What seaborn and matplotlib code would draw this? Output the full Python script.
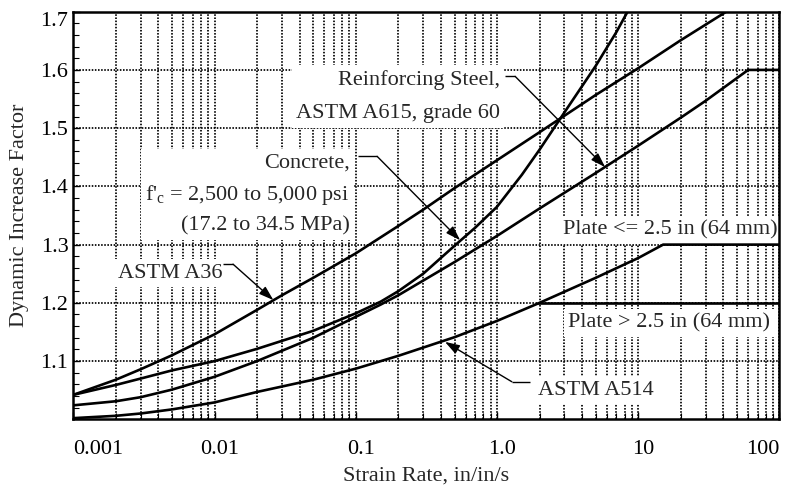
import matplotlib
matplotlib.use("Agg")
import matplotlib.pyplot as plt
import matplotlib.ticker as mticker
import matplotlib.transforms as mtransforms
import pandas as pd
import seaborn as sns

# ---------------- data ----------------
a36_rate = [0.001, 0.002, 0.003, 0.005, 0.01, 0.02, 0.03, 0.05, 0.1, 0.2, 0.3, 0.5,
            1.0, 2.0, 5.0, 10, 20, 42]
a36_dif = [1.042, 1.068, 1.086, 1.110, 1.146, 1.188, 1.213, 1.243, 1.285, 1.332, 1.360,
           1.397, 1.445, 1.493, 1.557, 1.603, 1.651, 1.700]

concrete_rate = [0.001, 0.002, 0.003, 0.005, 0.01, 0.02, 0.05, 0.1, 0.15, 0.2, 0.3, 0.5,
                 0.7, 1.0, 1.5, 2.0, 3.0, 5.0, 7.0, 8.4]
concrete_dif = [1.042, 1.059, 1.070, 1.084, 1.100, 1.121, 1.152, 1.182, 1.202, 1.220, 1.250,
                1.298, 1.329, 1.365, 1.420, 1.463, 1.527, 1.607, 1.665, 1.700]

rebar_rate = [0.001, 0.002, 0.003, 0.005, 0.01, 0.02, 0.05, 0.1, 0.15, 0.2, 0.5, 1.0, 2.0,
              5.0, 10, 20, 30, 60, 100]
rebar_dif = [1.024, 1.031, 1.038, 1.051, 1.073, 1.100, 1.140, 1.176, 1.197, 1.213, 1.270,
             1.315, 1.362, 1.423, 1.470, 1.518, 1.547, 1.600, 1.600]

a514_rate = [0.001, 0.002, 0.003, 0.005, 0.01, 0.02, 0.05, 0.1, 0.2, 0.5, 1.0, 2.0, 5.0,
             10, 15, 100]
a514_dif = [1.002, 1.006, 1.010, 1.017, 1.029, 1.047, 1.068, 1.087, 1.109, 1.141, 1.169,
            1.200, 1.243, 1.277, 1.300, 1.300]

thick_plate_rate = [1.96, 100]
thick_plate_dif = [1.2, 1.2]

x_tick_values = [0.001, 0.01, 0.1, 1.0, 10, 100]
x_tick_labels = ["0.001", "0.01", "0.1", "1.0", "10", "100"]
y_tick_values = [1.1, 1.2, 1.3, 1.4, 1.5, 1.6, 1.7]
y_tick_labels = ["1.1", "1.2", "1.3", "1.4", "1.5", "1.6", "1.7"]

# annotation anchors (data coordinates): text, leader corner, leader start, arrow tip
rebar_label = "Reinforcing Steel,\nASTM A615, grade 60"
rebar_text_xy = (1.05, 1.5545)
rebar_leader = [(1.141, 1.5889), (1.344, 1.5889)]
rebar_tip = (5.83, 1.433)

concrete_label = "Concrete,\nf'$_\\mathregular{c}$ = 2,500 to 5,000 psi\n(17.2 to 34.5 MPa)"
concrete_text_xy = (0.0905, 1.386)
concrete_leader = [(0.1038, 1.4516), (0.1416, 1.4516)]
concrete_tip = (0.548, 1.3075)

a36_label = "ASTM A36"
a36_text_xy = (0.0113, 1.251)
a36_leader = [(0.01149, 1.2664), (0.01352, 1.2664)]
a36_tip = (0.0261, 1.2047)

a514_label = "ASTM A514"
a514_text_xy = (1.955, 1.0503)
a514_leader = [(1.715, 1.0645), (1.273, 1.0645)]
a514_tip = (0.428, 1.133)

thin_label = "Plate <= 2.5 in (64 mm)"
thin_text_xy = (97.5, 1.3247)
thick_label = "Plate > 2.5 in (64 mm)"
thick_text_xy = (85.9, 1.165)

# ---------------- long table for seaborn ----------------
frames = []
for name, xs, ys in [("A36", a36_rate, a36_dif),
                     ("Concrete", concrete_rate, concrete_dif),
                     ("Rebar", rebar_rate, rebar_dif),
                     ("A514", a514_rate, a514_dif),
                     ("A514 thick", thick_plate_rate, thick_plate_dif)]:
    frames.append(pd.DataFrame({"series": name, "rate": xs, "dif": ys}))
df = pd.concat(frames, ignore_index=True)

# ---------------- style ----------------
sns.set_style("ticks")
plt.rcParams["font.family"] = ["Liberation Serif", "DejaVu Serif"]
plt.rcParams["mathtext.fontset"] = "custom"
plt.rcParams["mathtext.rm"] = "Liberation Serif"
plt.rcParams["mathtext.it"] = "Liberation Serif:italic"
plt.rcParams["mathtext.default"] = "regular"
FS = 16

fig = plt.figure(figsize=(7.9, 4.87), dpi=100)
ax = fig.add_axes([0.0928, 0.139, 0.8939, 0.837])
ax.set_xscale("log")

sns.lineplot(data=df, x="rate", y="dif", units="series", estimator=None, sort=False,
             color="black", lw=1.9, ax=ax, zorder=4, legend=False)

ax.set_xlim(0.001, 100)
ax.set_ylim(1.0, 1.7)

# grid
ax.set_axisbelow(True)
grid_kw = dict(color="black", lw=1.25, linestyle=(0, (0.9, 0.9)))
ax.grid(True, which="both", axis="x", **grid_kw)
ax.grid(True, which="major", axis="y", **grid_kw)

# ticks
ax.set_xticks(x_tick_values)
ax.set_xticklabels(x_tick_labels)
ax.xaxis.set_minor_locator(mticker.LogLocator(base=10, subs=range(2, 10), numticks=20))
ax.xaxis.set_minor_formatter(mticker.NullFormatter())
ax.set_yticks(y_tick_values)
ax.set_yticklabels(y_tick_labels)
ax.yaxis.set_minor_locator(mticker.MultipleLocator(0.02))
ax.tick_params(axis="both", which="both", direction="in", colors="black",
               labelsize=FS, top=False, right=False)
ax.tick_params(axis="x", which="major", length=5, width=1.0, pad=15)
ax.tick_params(axis="x", which="minor", length=4, width=0.8)
ax.tick_params(axis="y", which="major", length=5, width=1.0, pad=3.5)
ax.tick_params(axis="y", which="minor", length=4, width=0.8)

xl = ax.get_xticklabels()
xl[0].set_ha("left")
xl[-1].set_ha("right")
shift = mtransforms.ScaledTranslation(3.5 / 72, 0, fig.dpi_scale_trans)
for lab in xl[1:-1]:
    lab.set_transform(lab.get_transform() + shift)
yl = ax.get_yticklabels()
yl[-1].set_va("top")

for sp in ax.spines.values():
    sp.set_linewidth(1.8)
    sp.set_color("black")
    sp.set_zorder(6)

ax.set_xlabel("Strain Rate, in/in/s", fontsize=FS, labelpad=5)
ax.set_ylabel("Dynamic Increase Factor", fontsize=FS, labelpad=8)

# ---------------- annotations ----------------
box = dict(boxstyle="square,pad=0.2", fc="white", ec="none")

def label(txt, xy, ha, ls=1.2):
    ax.text(xy[0], xy[1], txt, ha=ha, va="center", multialignment=ha, fontsize=FS,
            linespacing=ls, bbox=box, zorder=3)

def leader(pts, tip):
    ax.plot([pts[0][0], pts[1][0]], [pts[0][1], pts[1][1]], color="black", lw=1.0,
            zorder=5, solid_capstyle="butt")
    ax.annotate("", xy=tip, xytext=pts[1],
                arrowprops=dict(arrowstyle="-|>,head_length=0.55,head_width=0.18",
                                color="black", lw=1.0, shrinkA=0, shrinkB=0,
                                mutation_scale=16), zorder=5)

label(rebar_label, rebar_text_xy, "right", ls=2.05)
leader(rebar_leader, rebar_tip)
label(concrete_label, concrete_text_xy, "right", ls=1.65)
leader(concrete_leader, concrete_tip)
label(a36_label, a36_text_xy, "right")
leader(a36_leader, a36_tip)
label(a514_label, a514_text_xy, "left")
leader(a514_leader, a514_tip)
label(thin_label, thin_text_xy, "right")
label(thick_label, thick_text_xy, "right")

fig.savefig("out.png", dpi=100)
